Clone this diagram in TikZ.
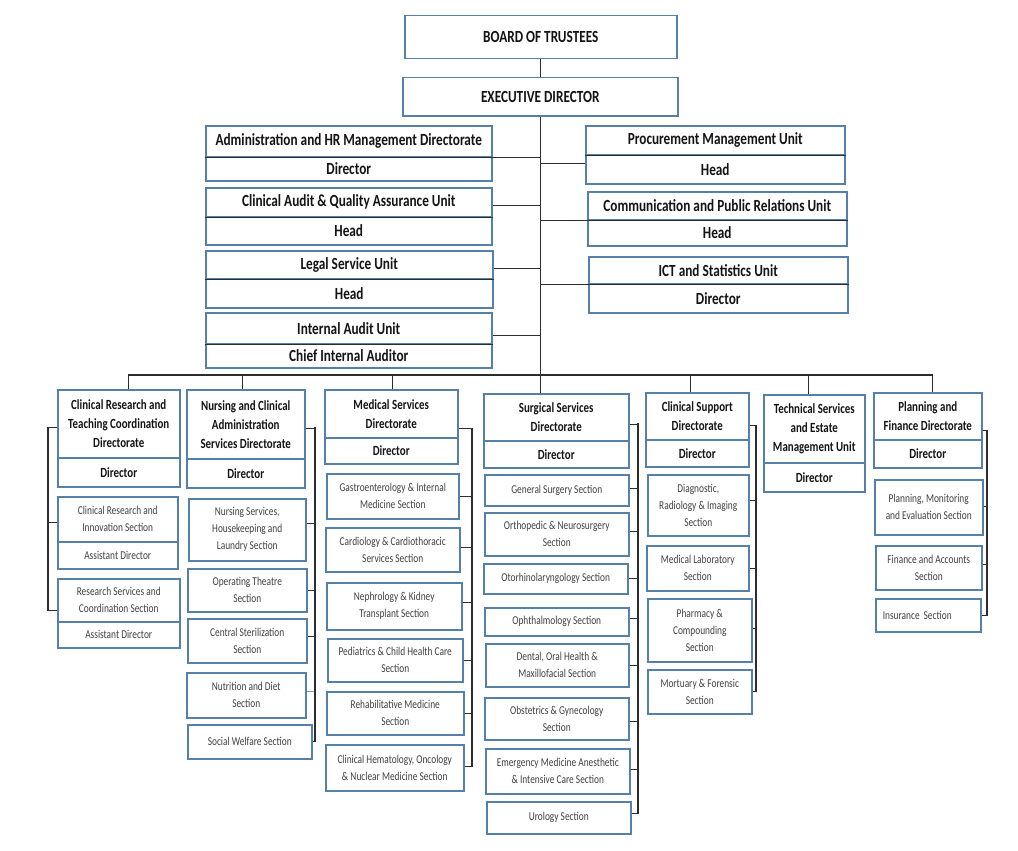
\documentclass[tikz,border=0pt]{standalone}
\usepackage{fontspec}
\setmainfont{Carlito}[FakeStretch=0.78]

\begin{document}
\begin{tikzpicture}[x=1pt, y=-1pt,
    orgbox/.style={draw=boxblue, line width=1.5pt, fill=white, anchor=north west, align=center, inner sep=2pt, text=inkdark},
    topbox/.style={orgbox, font=\bfseries\fontsize{17}{20}\selectfont},
    headbox/.style={orgbox, font=\bfseries\fontsize{14}{19}\selectfont},
    secbox/.style={orgbox, text=inkgray, font=\fontsize{12}{17}\selectfont},
    link/.style={draw=linedark, line width=1.1pt}]
        % Define the chart colours
        \definecolor{boxblue}{RGB}{84,128,170}
        \definecolor{inkdark}{RGB}{20,20,20}
        \definecolor{inkgray}{RGB}{65,65,65}
        \definecolor{linedark}{RGB}{45,45,45}

        \useasboundingbox (0,0) rectangle (1018,851);

        % Board and executive director
        \node[topbox, minimum width=272pt, minimum height=43pt] (board) at (404,15) {BOARD OF TRUSTEES};
        \node[topbox, minimum width=275pt, minimum height=38pt] (exec) at (402,77) {EXECUTIVE DIRECTOR};

        % Units on the left of the trunk
        \node[topbox, minimum width=286pt, minimum height=31pt] (admtitle) at (205,125) {Administration and HR Management Directorate};
        \node[topbox, minimum width=286pt, minimum height=24pt] (admrole) at (205,156) {Director};
        \node[topbox, minimum width=286pt, minimum height=29pt] (cqatitle) at (205,187) {Clinical Audit \& Quality Assurance Unit};
        \node[topbox, minimum width=286pt, minimum height=28pt] (cqarole) at (205,216) {Head};
        \node[topbox, minimum width=287pt, minimum height=28pt] (legtitle) at (205,250) {Legal Service Unit};
        \node[topbox, minimum width=287pt, minimum height=29pt] (legrole) at (205,278) {Head};
        \node[topbox, minimum width=286pt, minimum height=31pt] (iautitle) at (205,312) {Internal Audit Unit};
        \node[topbox, minimum width=286pt, minimum height=24pt] (iaurole) at (205,343) {Chief Internal Auditor};

        % Units on the right of the trunk
        \node[topbox, minimum width=259pt, minimum height=29pt] (proctitle) at (585,125) {Procurement Management Unit};
        \node[topbox, minimum width=259pt, minimum height=29pt] (procrole) at (585,154) {Head};
        \node[topbox, minimum width=259pt, minimum height=28pt] (commtitle) at (587,191) {Communication and Public Relations Unit};
        \node[topbox, minimum width=259pt, minimum height=26pt] (commrole) at (587,219) {Head};
        \node[topbox, minimum width=259pt, minimum height=27pt] (icttitle) at (588,256) {ICT and Statistics Unit};
        \node[topbox, minimum width=259pt, minimum height=29pt] (ictrole) at (588,283) {Director};

        % Clinical research and teaching coordination
        \node[headbox, minimum width=122pt, minimum height=68pt] (crttitle) at (57,389) {Clinical Research and\\Teaching Coordination\\Directorate};
        \node[headbox, minimum width=122pt, minimum height=29pt] (crtrole) at (57,457) {Director};
        \node[secbox, minimum width=120pt, minimum height=45pt] (crititle) at (57,496) {Clinical Research and\\Innovation Section};
        \node[secbox, minimum width=120pt, minimum height=27pt] (crirole) at (57,541) {Assistant Director};
        \node[secbox, minimum width=122pt, minimum height=43pt] (rsctitle) at (57,578) {Research Services and\\Coordination Section};
        \node[secbox, minimum width=122pt, minimum height=26pt] (rscrole) at (57,621) {Assistant Director};

        % Nursing and clinical administration
        \node[headbox, minimum width=118pt, minimum height=69pt] (nurtitle) at (186,389) {Nursing and Clinical\\Administration\\Services Directorate};
        \node[headbox, minimum width=118pt, minimum height=29pt] (nurrole) at (186,458) {Director};
        \node[secbox, minimum width=117pt, minimum height=62pt] (nsh) at (188,498) {Nursing Services,\\Housekeeping and\\Laundry Section};
        \node[secbox, minimum width=119pt, minimum height=43pt] (ots) at (187,568) {Operating Theatre\\Section};
        \node[secbox, minimum width=119pt, minimum height=44pt] (css) at (187,618) {Central Sterilization\\Section};
        \node[secbox, minimum width=119pt, minimum height=45pt] (nds) at (186,672) {Nutrition and Diet\\Section};
        \node[secbox, minimum width=124pt, minimum height=34pt] (sws) at (187,724) {Social Welfare Section};

        % Medical services
        \node[headbox, minimum width=133pt, minimum height=48pt] (medtitle) at (324,389) {Medical Services\\Directorate};
        \node[headbox, minimum width=133pt, minimum height=26pt] (medrole) at (324,437) {Director};
        \node[secbox, minimum width=132pt, minimum height=45pt] (gis) at (326,473) {Gastroenterology \& Internal\\Medicine Section};
        \node[secbox, minimum width=134pt, minimum height=44pt] (ccs) at (325,527) {Cardiology \& Cardiothoracic\\Services Section};
        \node[secbox, minimum width=135pt, minimum height=47pt] (nks) at (326,582) {Nephrology \& Kidney\\Transplant Section};
        \node[secbox, minimum width=135pt, minimum height=43pt] (pcs) at (327,638) {Pediatrics \& Child Health Care\\Section};
        \node[secbox, minimum width=137pt, minimum height=43pt] (rms) at (326,691) {Rehabilitative Medicine\\Section};
        \node[secbox, minimum width=138pt, minimum height=46pt] (hos) at (325,744) {Clinical Hematology, Oncology\\\& Nuclear Medicine Section};

        % Surgical services
        \node[headbox, minimum width=145pt, minimum height=47pt] (surtitle) at (483,393) {Surgical Services\\Directorate};
        \node[headbox, minimum width=145pt, minimum height=27pt] (surrole) at (483,440) {Director};
        \node[secbox, minimum width=144pt, minimum height=31pt] (gss) at (484,474) {General Surgery Section};
        \node[secbox, minimum width=144pt, minimum height=43pt] (ons) at (484,512) {Orthopedic \& Neurosurgery\\Section};
        \node[secbox, minimum width=144pt, minimum height=30pt] (ent) at (483,563) {Otorhinolaryngology Section};
        \node[secbox, minimum width=144pt, minimum height=28pt] (oph) at (484,607) {Ophthalmology Section};
        \node[secbox, minimum width=143pt, minimum height=43pt] (dom) at (485,643) {Dental, Oral Health \&\\Maxillofacial Section};
        \node[secbox, minimum width=144pt, minimum height=42pt] (obg) at (484,697) {Obstetrics \& Gynecology\\Section};
        \node[secbox, minimum width=144pt, minimum height=45pt] (emi) at (485,748) {Emergency Medicine Anesthetic\\\& Intensive Care Section};
        \node[secbox, minimum width=144pt, minimum height=32pt] (uro) at (486,801) {Urology Section};

        % Clinical support
        \node[headbox, minimum width=103pt, minimum height=47pt] (cstitle) at (645,392) {Clinical Support\\Directorate};
        \node[headbox, minimum width=103pt, minimum height=27pt] (csrole) at (645,439) {Director};
        \node[secbox, minimum width=101pt, minimum height=61pt] (dri) at (647,474) {Diagnostic,\\Radiology \& Imaging\\Section};
        \node[secbox, minimum width=102pt, minimum height=45pt] (mls) at (646,545) {Medical Laboratory\\Section};
        \node[secbox, minimum width=104pt, minimum height=63pt] (pcu) at (647,598) {Pharmacy \&\\Compounding\\Section};
        \node[secbox, minimum width=104pt, minimum height=44pt] (mfs) at (647,669) {Mortuary \& Forensic\\Section};

        % Technical services and estate management
        \node[headbox, minimum width=101pt, minimum height=68pt] (tsetitle) at (763,394) {Technical Services\\and Estate\\Management Unit};
        \node[headbox, minimum width=101pt, minimum height=29pt] (tserole) at (763,462) {Director};

        % Planning and finance
        \node[headbox, minimum width=108pt, minimum height=47pt] (pfdtitle) at (873,392) {Planning and\\Finance Directorate};
        \node[headbox, minimum width=108pt, minimum height=28pt] (pfdrole) at (873,439) {Director};
        \node[secbox, minimum width=108pt, minimum height=55pt] (pme) at (874,479) {Planning, Monitoring\\and Evaluation Section};
        \node[secbox, minimum width=106pt, minimum height=44pt] (fas) at (875,545) {Finance and Accounts\\Section};
        \node[secbox, minimum width=105pt, minimum height=33pt, text width=91pt, align=left] (ins) at (875,598) {Insurance Section};

        % Trunk
        \draw[link] (board.south) -- (board.south |- exec.north);
        \draw[link] (exec.south) -- (exec.south |- surtitle.north);

        % Dividers and links of the upper units
        \draw[link] (admtitle.south west) -| (exec.south);
        \draw[link] (cqatitle.south west) -- (cqatitle.south east);
        \draw[link] ([yshift=-3pt]cqatitle.east) -| (exec.south);
        \draw[link] (legtitle.south west) -- (legtitle.south east);
        \draw[link] ([yshift=-4pt]legtitle.east) -| (exec.south);
        \draw[link] (iautitle.south west) -- (iautitle.south east);
        \draw[link] ([yshift=-7pt]iautitle.east) -| (exec.south);
        \draw[link] (proctitle.south west) -- (proctitle.south east);
        \draw[link] ([yshift=-8pt]proctitle.south west) -| (exec.south);
        \draw[link] (commtitle.south east) -- (commtitle.south west) -| (exec.south);
        \draw[link] (icttitle.south east) -- (icttitle.south west) -| (exec.south);

        % Bus to the directorates
        \coordinate (bus) at (540,375);
        \draw[link] ([xshift=10pt]crttitle.north) |- (bus);
        \draw[link] ([xshift=-3pt]nurtitle.north) |- (bus);
        \draw[link] ([xshift=1pt]medtitle.north) |- (bus);
        \draw[link] ([xshift=-7pt]cstitle.north) |- (bus);
        \draw[link] ([xshift=-6pt]tsetitle.north) |- (bus);
        \draw[link] ([xshift=5pt]pfdtitle.north) |- (bus);

        % Clinical research sections
        \coordinate (crtbk) at (48,427);
        \draw[link] ([yshift=-4pt]crttitle.west) -| (crtbk);
        \draw[link] ([yshift=-3pt]crititle.west) -| (crtbk);
        \draw[link] ([yshift=-10pt]rsctitle.west) -| (crtbk);

        % Nursing sections
        \coordinate (nurbk) at (315,427);
        \draw[link] ([yshift=-4pt]nurtitle.east) -| (nurbk);
        \draw[link] ([yshift=6pt]nsh.east) -| (nurbk);
        \draw[link] (ots.east) -| (nurbk);
        \draw[link] ([yshift=4pt]css.east) -| (nurbk);
        \draw[link, draw=boxblue!80] ([yshift=4pt]nds.east) -- ([yshift=4pt]nds.east -| nurbk);
        \draw[link] (sws.east) -| (nurbk);

        % Medical sections
        \coordinate (medbk) at (472,428);
        \draw[link] ([yshift=-15pt]medtitle.east) -| (medbk);
        \draw[link] (gis.east) -| (medbk);
        \draw[link] ([yshift=2pt]ccs.east) -| (medbk);
        \draw[link] ([yshift=4pt]nks.east) -| (medbk);
        \draw[link] (pcs.east) -| (medbk);
        \draw[link] (rms.east) -| (medbk);
        \draw[link] ([yshift=1pt]hos.east) -| (medbk);

        % Surgical sections
        \coordinate (surbk) at (638,423);
        \draw[link] ([yshift=-7pt]surtitle.east) -| (surbk);
        \draw[link] ([yshift=2pt]gss.east) -| (surbk);
        \draw[link] ([yshift=3pt]ons.east) -| (surbk);
        \draw[link] (ent.east) -| (surbk);
        \draw[link] ([yshift=3pt]oph.east) -| (surbk);
        \draw[link] (dom.east) -| (surbk);
        \draw[link] ([yshift=-3pt]obg.east) -| (surbk);
        \draw[link] ([yshift=2pt]emi.east) -| (surbk);
        \draw[link] ([yshift=4pt]uro.east) -| (surbk);

        % Clinical support sections
        \coordinate (csbk) at (756,425);
        \draw[link] ([yshift=-9pt]cstitle.east) -| (csbk);
        \draw[link] ([yshift=5pt]dri.east) -| (csbk);
        \draw[link] (mls.east) -| (csbk);
        \draw[link] ([yshift=2pt]pcu.east) -| (csbk);
        \draw[link] (mfs.east) -| (csbk);

        % Planning and finance sections
        \coordinate (pfdbk) at (987,430);
        \draw[link] ([yshift=-14pt]pfdtitle.east) -| (pfdbk);
        \draw[link] ([yshift=1pt]pme.east) -| (pfdbk);
        \draw[link] ([yshift=3pt]fas.east) -| (pfdbk);
        \draw[link] (ins.east) -| (pfdbk);
    \end{tikzpicture}
\end{document}
